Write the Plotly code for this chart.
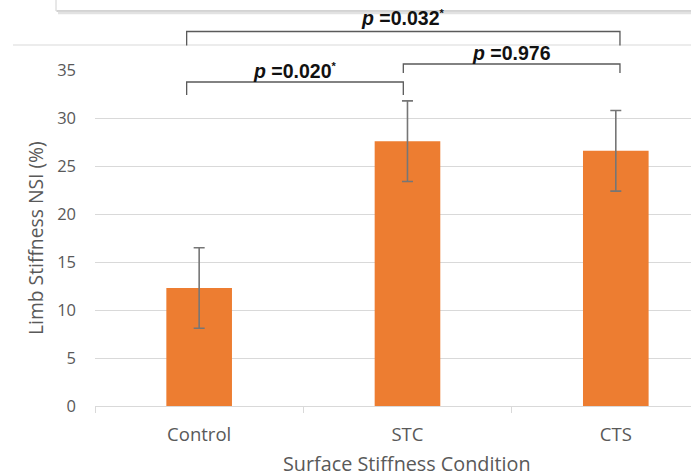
import plotly.graph_objects as go

categories = ["Control", "STC", "CTS"]
means = [12.3, 27.6, 26.6]
errors = [4.2, 4.2, 4.2]
y_ticks = [0, 5, 10, 15, 20, 25, 30, 35]

STAR = "<sup><span style='font-size:11px'>*</span></sup>"
comparisons = [
    # (left category pos, right category pos, label)
    (-0.06, 2.02, "<b><i>p</i> =0.032" + STAR + "</b>"),
    (0.98, 2.02, "<b><i>p</i> =0.976</b>"),
    (-0.06, 0.98, "<b><i>p</i> =0.020" + STAR + "</b>"),
]

W, H = 691, 476
L, R, T, B = 95, 0, 70, 70
X0, X1 = -0.5, 2.361
plot_w = W - L - R
plot_h = H - T - B


def xp_data(v):
    return (v - X0) / (X1 - X0)


def xp(px):
    return (px - L) / plot_w


def yp(py):
    return (H - B - py) / plot_h


GRID = "#d9d9d9"
TXT = "#595959"
FONT = "Open Sans"

fig = go.Figure()
fig.add_trace(go.Bar(
    x=categories,
    y=means,
    width=0.315,
    marker=dict(color="#ED7D31", line=dict(width=0)),
    error_y=dict(type="data", array=errors, visible=True,
                 color="#767676", thickness=1.6, width=5.5),
    hoverinfo="skip",
))

shapes = []
# top decorative box shadow (from source document)
shapes.append(dict(type="rect", xref="paper", yref="paper",
                   x0=xp(56), x1=xp(720), y0=yp(-10), y1=yp(11),
                   fillcolor="white", line=dict(color="#d0d0d0", width=1)))
shapes.append(dict(type="line", xref="paper", yref="paper",
                   x0=xp(57), x1=xp(720), y0=yp(11), y1=yp(11),
                   line=dict(color="#bdbdbd", width=1.2)))
shapes.append(dict(type="line", xref="paper", yref="paper",
                   x0=xp(58), x1=xp(720), y0=yp(13), y1=yp(13),
                   line=dict(color="#e2e2e2", width=2.5)))
# thin top border line
shapes.append(dict(type="line", xref="paper", yref="paper",
                   x0=xp(13), x1=xp(720), y0=yp(45), y1=yp(45),
                   line=dict(color=GRID, width=1)))

# brackets: (bar y top in px, drop in px, text y in px)
bracket_geom = [(31.5, 14, 18), (64, 9, 53), (82, 13, 71)]
annotations = []
for (xa, xb, label), (ytop, drop, ytxt) in zip(comparisons, bracket_geom):
    a, b = xp_data(xa), xp_data(xb)
    yt, yb = yp(ytop), yp(ytop + drop)
    shapes.append(dict(type="path", xref="paper", yref="paper",
                       path=f"M {a} {yb} L {a} {yt} L {b} {yt} L {b} {yb}",
                       line=dict(color="#5a5a5a", width=1.3)))
    annotations.append(dict(xref="paper", yref="paper", x=(a + b) / 2, y=yp(ytxt),
                            text=label, showarrow=False, xanchor="center", yanchor="middle",
                            font=dict(family="Liberation Sans, Arial", size=19.5, color="#111111")))

annotations.append(dict(xref="paper", yref="paper", x=xp(35), y=yp(238),
                        text="Limb Stiffness NSI (%)", textangle=-90, showarrow=False,
                        xanchor="center", yanchor="middle",
                        font=dict(family=FONT, size=19.3, color=TXT)))
annotations.append(dict(xref="paper", yref="paper", x=xp(407), y=yp(463),
                        text="Surface Stiffness Condition", showarrow=False,
                        xanchor="center", yanchor="middle",
                        font=dict(family=FONT, size=19.8, color=TXT)))

fig.update_layout(
    width=W, height=H,
    margin=dict(l=L, r=R, t=T, b=B, pad=0),
    paper_bgcolor="white", plot_bgcolor="white",
    showlegend=False,
    shapes=shapes,
    annotations=annotations,
    xaxis=dict(range=[X0, X1], type="category", tickson="boundaries",
               ticks="outside", ticklen=6, tickcolor=GRID, tickwidth=1,
               showline=True, linecolor=GRID, linewidth=1, showgrid=False,
               tickfont=dict(family=FONT, size=18.5, color=TXT), ticklabelstandoff=12),
    yaxis=dict(range=[0, 35.02], tickvals=y_ticks, showgrid=True, gridcolor=GRID,
               gridwidth=1, zeroline=False, showline=False, ticks="",
               tickfont=dict(family=FONT, size=16.5, color=TXT), ticklabelstandoff=18),
)

fig.write_html("out.html", config={"displayModeBar": False},
               post_script="document.body.style.margin='0';document.body.style.overflow='hidden';")
